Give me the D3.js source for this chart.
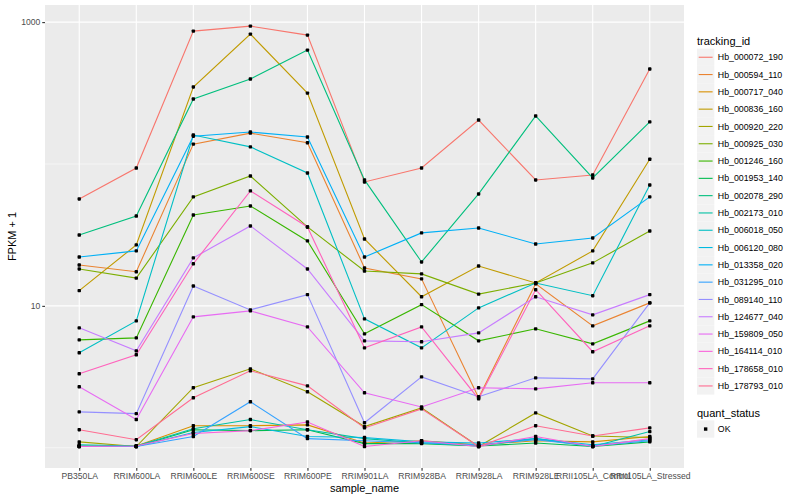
<!DOCTYPE html>
<meta charset="utf-8">
<script src="https://cdn.jsdelivr.net/npm/d3@7"></script>
<style>
  body { margin: 0; background: #fff; }
  text { font-family: "Liberation Sans", Arial, sans-serif; }
</style>
<div id="chart"></div>
<script>

// samples on the x axis
var samples = ["PB350LA", "RRIM600LA", "RRIM600LE", "RRIM600SE", "RRIM600PE", "RRIM901LA",
               "RRIM928BA", "RRIM928LA", "RRIM928LE", "RRII105LA_Control", "RRII105LA_Stressed"];

// FPKM + 1 for each gene, one value per sample
var hb000072_190 = [56.7, 93.7, 864, 937, 810, 74.7, 93.7, 204, 77.2, 83.7, 467];
var hb000594_110 = [19.4, 17.4, 138, 165, 141, 18.5, 15.5, 2.25, 14.3, 7.23, 10.5];
var hb000717_040 = [1.03, 1.03, 1.43, 1.43, 1.45, 1.08, 1.12, 1.05, 1.12, 1.10, 1.20];
var hb000836_160 = [12.8, 26.9, 349, 823, 316, 29.6, 11.6, 19.1, 14.5, 24.4, 108];
var hb000920_220 = [1.10, 1.02, 2.65, 3.60, 2.48, 1.41, 1.91, 1.02, 1.76, 1.21, 1.18];
var hb000925_030 = [18.2, 15.7, 58.6, 82.3, 36.0, 17.6, 16.8, 12.1, 14.5, 20.1, 33.7];
var hb001246_160 = [5.76, 5.95, 43.7, 50.6, 28.7, 6.35, 10.2, 5.67, 6.89, 5.40, 7.84];
var hb001953_140 = [1.02, 1.02, 1.34, 1.32, 1.34, 1.07, 1.07, 1.03, 1.08, 1.02, 1.10];
var hb002078_290 = [31.6, 43.0, 287, 397, 635, 77.2, 20.4, 61.5, 218, 79.7, 198];
var hb002173_010 = [1.05, 1.03, 1.36, 1.58, 1.34, 1.16, 1.08, 1.03, 1.16, 1.02, 1.30];
var hb006018_050 = [4.67, 7.84, 160, 132, 86.4, 8.10, 5.06, 9.68, 14.5, 11.8, 71.1];
var hb006120_080 = [1.03, 1.02, 1.28, 1.41, 1.20, 1.18, 1.10, 1.08, 1.16, 1.05, 1.14];
var hb013358_020 = [22.1, 24.4, 157, 168, 155, 22.1, 32.7, 35.4, 27.3, 30.1, 58.6];
var hb031295_010 = [1.02, 1.02, 1.20, 2.11, 1.16, 1.12, 1.08, 1.05, 1.14, 1.03, 1.12];
var hb089140_110 = [1.79, 1.74, 13.8, 9.37, 12.0, 1.50, 3.16, 2.29, 3.11, 3.06, 10.5];
var hb124677_040 = [7.00, 4.82, 21.8, 36.6, 18.2, 5.67, 5.58, 6.45, 11.6, 8.64, 12.0];
var hb159809_050 = [2.69, 1.58, 8.37, 9.22, 7.11, 2.44, 1.94, 2.65, 2.60, 2.87, 2.87];
var hb164114_010 = [1.02, 1.03, 1.26, 1.32, 1.52, 1.02, 1.12, 1.02, 1.20, 1.02, 1.16];
var hb178658_010 = [3.32, 4.52, 19.8, 64.6, 36.0, 5.06, 7.11, 2.21, 13.0, 4.75, 7.23];
var hb178793_010 = [1.34, 1.14, 2.25, 3.49, 2.73, 1.38, 1.88, 1.02, 1.43, 1.21, 1.38];

var trackingIds = ["Hb_000072_190", "Hb_000594_110", "Hb_000717_040", "Hb_000836_160", "Hb_000920_220",
                   "Hb_000925_030", "Hb_001246_160", "Hb_001953_140", "Hb_002078_290", "Hb_002173_010",
                   "Hb_006018_050", "Hb_006120_080", "Hb_013358_020", "Hb_031295_010", "Hb_089140_110",
                   "Hb_124677_040", "Hb_159809_050", "Hb_164114_010", "Hb_178658_010", "Hb_178793_010"];

var seriesValues = [hb000072_190, hb000594_110, hb000717_040, hb000836_160, hb000920_220,
                    hb000925_030, hb001246_160, hb001953_140, hb002078_290, hb002173_010,
                    hb006018_050, hb006120_080, hb013358_020, hb031295_010, hb089140_110,
                    hb124677_040, hb159809_050, hb164114_010, hb178658_010, hb178793_010];

var yTicks = [10, 1000];
var yMinor = [1, 100];
var statusLabels = ["OK"];

// ggplot default hue palette, 20 levels
var palette = ["#F8766D", "#EA8331", "#D89000", "#C09B00", "#A3A500", "#7CAE00", "#39B600", "#00BB4E",
               "#00BF7D", "#00C1A3", "#00BFC4", "#00BAE0", "#00B0F6", "#35A2FF", "#9590FF", "#C77CFF",
               "#E76BF3", "#FA62DB", "#FF62BC", "#FF6C91"];

var W = 800, H = 500;
var panel = {left: 45, right: 684, top: 5, bottom: 468};

var svg = d3.select("#chart").append("svg")
    .attr("width", W)
    .attr("height", H);

var x = d3.scalePoint()
    .domain(samples)
    .range([panel.left, panel.right])
    .padding(0.6);

var y = d3.scaleLog()
    .domain([0.72, 1320])
    .range([panel.bottom, panel.top]);

// panel background
svg.append("rect")
    .attr("x", panel.left).attr("y", panel.top)
    .attr("width", panel.right - panel.left)
    .attr("height", panel.bottom - panel.top)
    .attr("fill", "#EBEBEB");

// grid
svg.append("g").selectAll("line")
  .data(yMinor).enter().append("line")
    .attr("x1", panel.left).attr("x2", panel.right)
    .attr("y1", function(d) { return y(d); })
    .attr("y2", function(d) { return y(d); })
    .attr("stroke", "#fff").attr("stroke-width", 0.55);

svg.append("g").selectAll("line")
  .data(yTicks).enter().append("line")
    .attr("x1", panel.left).attr("x2", panel.right)
    .attr("y1", function(d) { return y(d); })
    .attr("y2", function(d) { return y(d); })
    .attr("stroke", "#fff").attr("stroke-width", 1.1);

svg.append("g").selectAll("line")
  .data(samples).enter().append("line")
    .attr("y1", panel.top).attr("y2", panel.bottom)
    .attr("x1", function(d) { return x(d); })
    .attr("x2", function(d) { return x(d); })
    .attr("stroke", "#fff").attr("stroke-width", 1.1);

// axes
var yAxis = svg.append("g")
    .attr("transform", "translate(" + panel.left + ",0)")
    .call(d3.axisLeft(y).tickValues(yTicks).tickFormat(d3.format("d")).tickSize(2.75).tickPadding(2));

var xAxis = svg.append("g")
    .attr("transform", "translate(0," + panel.bottom + ")")
    .call(d3.axisBottom(x).tickSize(2.75).tickPadding(2.5));

[xAxis, yAxis].forEach(function(a) {
  a.select(".domain").remove();
  a.selectAll(".tick line").attr("stroke", "#333333").attr("stroke-width", 1.1);
  a.selectAll(".tick text")
    .attr("fill", "#4D4D4D")
    .style("font-size", "8.6px")
    .style("font-family", "'Liberation Sans', Arial, sans-serif");
});

svg.append("text")
    .attr("x", (panel.left + panel.right) / 2)
    .attr("y", 492)
    .attr("text-anchor", "middle")
    .style("font-size", "11px")
    .text("sample_name");

svg.append("text")
    .attr("transform", "translate(16," + ((panel.top + panel.bottom) / 2) + ") rotate(-90)")
    .attr("text-anchor", "middle")
    .style("font-size", "11px")
    .text("FPKM + 1");

// lines
var line = d3.line()
    .x(function(d, i) { return x(samples[i]); })
    .y(function(d) { return y(d); });

svg.append("g").selectAll("path")
  .data(seriesValues).enter().append("path")
    .attr("d", line)
    .attr("fill", "none")
    .attr("stroke", function(d, i) { return palette[i]; })
    .attr("stroke-width", 1.1);

// points
var pts = [];
seriesValues.forEach(function(s) {
  s.forEach(function(v, i) { pts.push({sample: samples[i], value: v}); });
});

svg.append("g").selectAll("rect")
  .data(pts).enter().append("rect")
    .attr("x", function(d) { return x(d.sample) - 1.7; })
    .attr("y", function(d) { return y(d.value) - 1.7; })
    .attr("width", 3.4).attr("height", 3.4)
    .attr("rx", 0.8)
    .attr("fill", "#000");

// legend
var lg = svg.append("g").attr("transform", "translate(697,0)");
var keyH = 17.3, keyTop = 48.6;

lg.append("text")
    .attr("x", 0).attr("y", 44.5)
    .style("font-size", "11px")
    .text("tracking_id");

var items = lg.selectAll("g.item")
  .data(trackingIds).enter().append("g")
    .attr("class", "item")
    .attr("transform", function(d, i) { return "translate(0," + (keyTop + i * keyH) + ")"; });

items.append("rect")
    .attr("width", keyH).attr("height", keyH)
    .attr("fill", "#F2F2F2");
items.append("line")
    .attr("x1", 1.7).attr("x2", keyH - 1.7)
    .attr("y1", keyH / 2).attr("y2", keyH / 2)
    .attr("stroke", function(d, i) { return palette[i]; })
    .attr("stroke-width", 1.1);
items.append("text")
    .attr("x", keyH + 3.5).attr("y", keyH / 2 + 3.1)
    .style("font-size", "8.8px")
    .text(function(d) { return d; });

lg.append("text")
    .attr("x", 0).attr("y", 416.5)
    .style("font-size", "11px")
    .text("quant_status");

var st = lg.selectAll("g.status")
  .data(statusLabels).enter().append("g")
    .attr("class", "status")
    .attr("transform", function(d, i) { return "translate(0," + (420.4 + i * keyH) + ")"; });
st.append("rect")
    .attr("width", keyH).attr("height", keyH)
    .attr("fill", "#F2F2F2");
st.append("rect")
    .attr("x", keyH / 2 - 1.7).attr("y", keyH / 2 - 1.7)
    .attr("width", 3.4).attr("height", 3.4)
    .attr("fill", "#000");
st.append("text")
    .attr("x", keyH + 3.5).attr("y", keyH / 2 + 3.1)
    .style("font-size", "8.8px")
    .text(function(d) { return d; });

</script>
